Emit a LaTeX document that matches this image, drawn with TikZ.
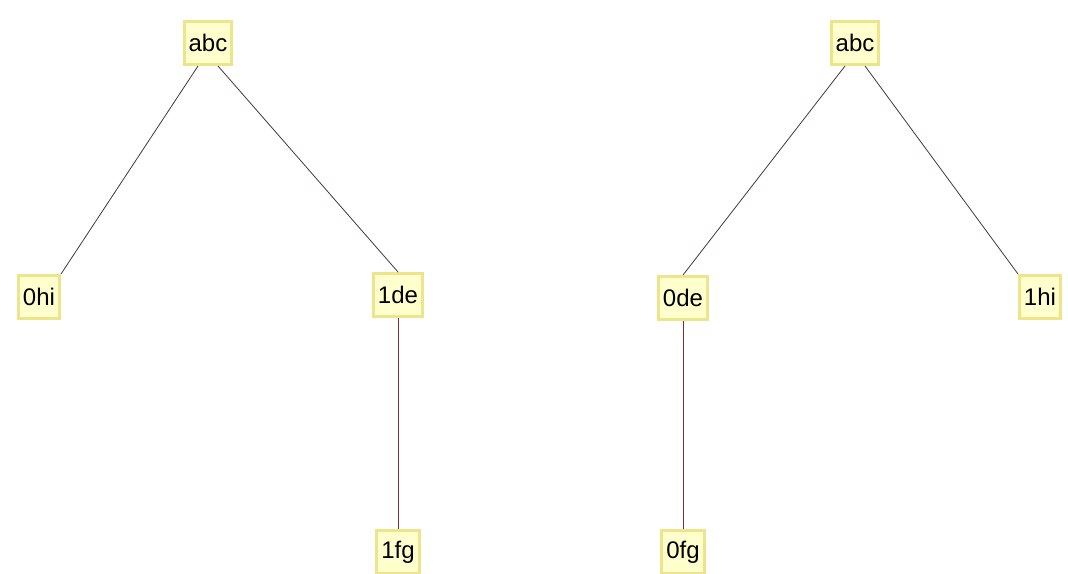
\documentclass[tikz,border=0pt]{standalone}
\usepackage{fontspec}
\setmainfont{Liberation Sans}
\usepackage{xcolor}
\usepackage{tikz}
\definecolor{boxline}{RGB}{238,228,140}
\definecolor{boxfill}{RGB}{255,255,206}
\definecolor{edgedark}{RGB}{70,55,55}
\definecolor{edgered}{RGB}{120,50,50}

\begin{document}
\begin{tikzpicture}[x=1pt,y=-1pt,
		box/.style={draw=boxline,fill=boxfill,line width=3pt,inner xsep=4.5pt,minimum height=43pt,font=\fontsize{24}{27}\selectfont},
		edge/.style={draw=edgedark,line width=0.8pt},
		vedge/.style={draw=edgered,line width=0.8pt}]
			\useasboundingbox (0,0) rectangle (1068,573);
			% left tree
			\node[box] (la) at (208,43) {abc};
			\node[box] (lhi) at (39,297) {0hi};
			\node[box] (lde) at (398,295) {1de};
			\node[box] (lfg) at (398,552) {1fg};
			% right tree
			\node[box] (ra) at (855,43) {abc};
			\node[box] (rde) at (683,298) {0de};
			\node[box] (rhi) at (1040,297) {1hi};
			\node[box] (rfg) at (683,552) {0fg};
			\draw[edge] (la.south) ++(-10,0) -- (lhi.north east);
			\draw[edge] (la.south) ++(10,0) -- (lde.north);
			\draw[vedge] (lde) -- (lfg);
			\draw[edge] (ra.south) ++(-10,0) -- (rde.north);
			\draw[edge] (ra.south) ++(10,0) -- (rhi.north west);
			\draw[vedge] (rde) -- (rfg);
		\end{tikzpicture}
\end{document}
